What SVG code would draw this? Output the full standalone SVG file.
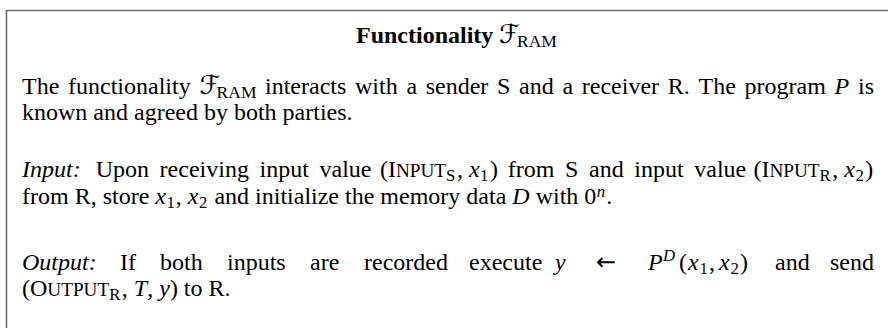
<svg xmlns="http://www.w3.org/2000/svg" width="888" height="328" viewBox="0 0 888 328">
<style>
.t{font-family:"Liberation Serif","Times New Roman",serif;font-size:24px;fill:#000}
.i{font-style:italic}
.b{font-weight:bold}
.sc{font-size:19.2px}
.sub{font-size:16.8px}
.ram{font-size:17.5px}
.cal{font-family:"DejaVu Sans","DejaVu Serif",serif;font-style:normal;font-size:26px}
.arr{font-family:"DejaVu Sans",sans-serif;font-size:24px}
.frame{fill:none;stroke:#6b6b6b;stroke-width:1.6}
</style>
<rect width="888" height="328" fill="#fff"/>
<path class="frame" d="M6.5,328 V10.5 H888"/>

<g id="title">
<text class="t b" x="356" y="43">Functionality</text>
<text class="t" y="43"><tspan class="cal" x="499">ℱ</tspan><tspan class="ram" x="517" y="47">RAM</tspan></text>
</g>

<g id="intro">
<text class="t" y="94"><tspan x="22">The</tspan><tspan x="68">functionality</tspan><tspan class="cal" x="199.4">ℱ</tspan><tspan class="ram" x="216.6" y="98">RAM</tspan><tspan y="94" x="265">interacts</tspan><tspan x="355">with</tspan><tspan x="406.4">a</tspan><tspan x="425.7">sender</tspan><tspan x="497.1">S</tspan><tspan x="519.1">and</tspan><tspan x="562.5">a</tspan><tspan x="581.8">receiver</tspan><tspan x="667.8">R.</tspan><tspan x="698.5">The</tspan><tspan x="744.5">program</tspan><tspan class="i" x="834.5">P</tspan><tspan x="858">is</tspan></text>
<text class="t" x="22" y="120">known and agreed by both parties.</text>
</g>

<g id="input">
<text class="t" y="177"><tspan class="i" x="22">Input:</tspan><tspan x="95.7">Upon</tspan><tspan x="159.6">receiving</tspan><tspan x="259.5">input</tspan><tspan x="319.5">value</tspan><tspan x="380">(I</tspan><tspan class="sc">NPUT</tspan><tspan class="sub" y="181">S</tspan><tspan y="177" dx="1.5">, </tspan><tspan class="i">x</tspan><tspan class="sub" y="181" dx="0.5">1</tspan><tspan y="177" dx="1.5">)</tspan><tspan x="507.8">from</tspan><tspan x="565.1">S</tspan><tspan x="589">and</tspan><tspan x="634.3">input</tspan><tspan x="694.3">value</tspan><tspan x="753.5">(I</tspan><tspan class="sc">NPUT</tspan><tspan class="sub" y="181">R</tspan><tspan y="177" dx="1.5">, </tspan><tspan class="i">x</tspan><tspan class="sub" y="181" dx="0.5">2</tspan><tspan y="177" dx="1.5">)</tspan></text>
<text class="t" x="22" y="204">from R, store <tspan class="i">x</tspan><tspan class="sub" y="208" dx="0.5">1</tspan><tspan y="204" dx="1">, </tspan><tspan class="i">x</tspan><tspan class="sub" y="208" dx="0.5">2</tspan><tspan y="204" dx="1"> and initialize the memory data </tspan><tspan class="i">D</tspan><tspan> with 0</tspan><tspan class="sub i" y="197" dx="0.5">n</tspan><tspan y="204" dx="1">.</tspan></text>
</g>

<g id="output">
<text class="t" y="270"><tspan class="i" x="22">Output:</tspan><tspan x="120">If</tspan><tspan x="160">both</tspan><tspan x="227">inputs</tspan><tspan x="310">are</tspan><tspan x="364">recorded</tspan><tspan x="469">execute</tspan><tspan class="i" x="555">y</tspan><tspan class="arr" x="596">←</tspan><tspan class="i" x="648">P</tspan><tspan class="sub i" x="663" y="261">D</tspan><tspan x="679" y="270">(</tspan><tspan class="i" x="688">x</tspan><tspan class="sub" x="699.5" y="274">1</tspan><tspan x="709" y="270">,</tspan><tspan class="i" x="719">x</tspan><tspan class="sub" x="730.5" y="274">2</tspan><tspan x="740" y="270">)</tspan><tspan x="775">and</tspan><tspan x="830">send</tspan></text>
<text class="t" x="22" y="296">(O<tspan class="sc">UTPUT</tspan><tspan class="sub" y="300">R</tspan><tspan y="296" dx="1.5">, </tspan><tspan class="i">T</tspan><tspan>, </tspan><tspan class="i">y</tspan><tspan>) to R.</tspan></text>
</g>
</svg>
